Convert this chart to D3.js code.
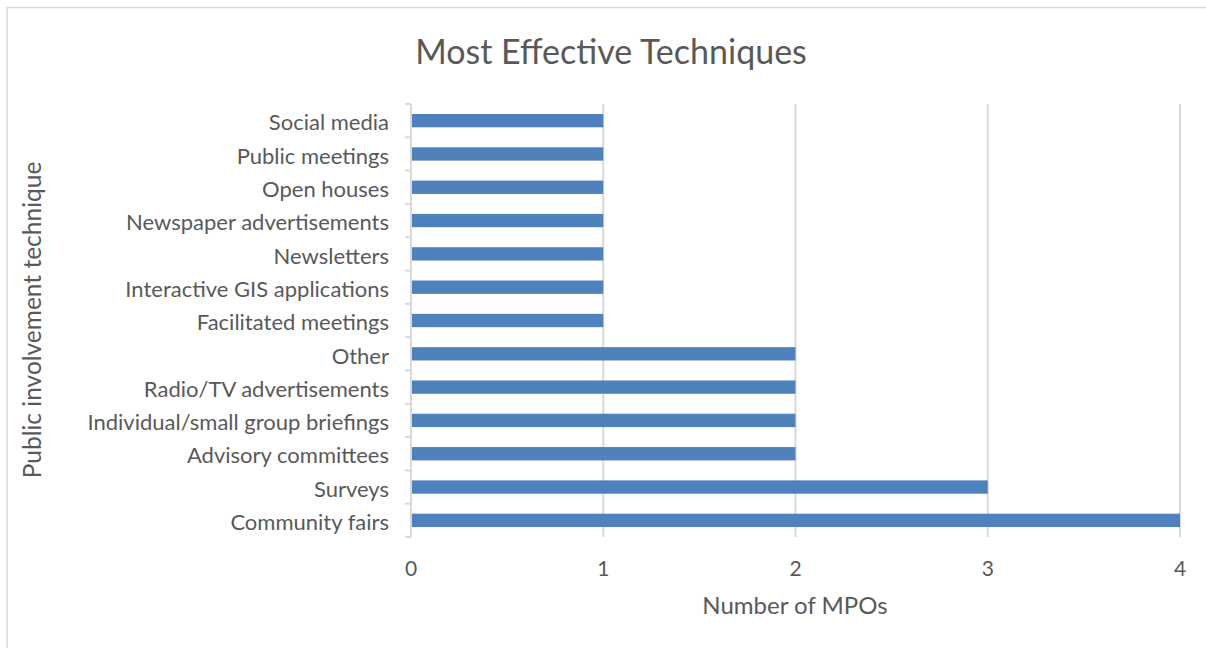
<!DOCTYPE html>
<html><head><meta charset="utf-8">
<script src="https://cdn.jsdelivr.net/npm/d3@7"></script>
<style>body{margin:0;background:#fff}svg{display:block}</style>
</head><body>
<svg id="c" width="1206" height="648"></svg>
<script>
const categories = ["Community fairs","Surveys","Advisory committees","Individual/small group briefings","Radio/TV advertisements","Other","Facilitated meetings","Interactive GIS applications","Newsletters","Newspaper advertisements","Open houses","Public meetings","Social media"];
const values = [4,3,2,2,2,2,1,1,1,1,1,1,1];
const xTicks = [0,1,2,3,4];
const title = "Most Effective Techniques";
const xTitle = "Number of MPOs";
const yTitle = "Public involvement technique";

const font = "Lato, 'Open Sans', sans-serif";
const svg = d3.select("#c");
svg.append("rect").attr("x",7).attr("y",7.5).attr("width",1300).attr("height",700)
  .attr("fill","#fff").attr("stroke","#d9d9d9").attr("stroke-width",1.5);

const L=411, R=1180, T=104, B=537;
const x = d3.scaleLinear().domain([0,4]).range([L,R]);
const y = d3.scaleBand().domain(categories.slice().reverse()).range([T,B]).paddingInner(0.6).paddingOuter(0.3);
const yb = d3.scaleBand().domain(categories.slice().reverse()).range([T,B]);

// grid
svg.append("g").selectAll("line").data(xTicks).join("line")
  .attr("x1",d=>x(d)).attr("x2",d=>x(d)).attr("y1",T).attr("y2",B)
  .attr("stroke","#d9d9d9").attr("stroke-width",2);

// bars
svg.append("g").selectAll("rect").data(categories).join("rect")
  .attr("x",L).attr("y",(d)=>y(d)).attr("height",y.bandwidth())
  .attr("width",(d,i)=>x(values[i])-L).attr("fill","#4f81bd");

// y axis line + ticks
const ya = svg.append("g");
ya.append("line").attr("x1",L).attr("x2",L).attr("y1",T).attr("y2",B).attr("stroke","#d9d9d9").attr("stroke-width",2);
const bounds = categories.map(c=>yb(c)).concat([B]);
ya.selectAll("line.t").data(bounds).join("line").attr("class","t")
  .attr("x1",L-6).attr("x2",L).attr("y1",d=>d).attr("y2",d=>d).attr("stroke","#d9d9d9").attr("stroke-width",2);
ya.selectAll("text").data(categories).join("text")
  .attr("x",389).attr("y",d=>yb(d)+yb.bandwidth()/2+2).attr("dy","0.35em")
  .attr("text-anchor","end").attr("font-family",font).attr("font-size",22).attr("fill","#595959").text(d=>d);

// x tick labels
svg.append("g").selectAll("text").data(xTicks).join("text")
  .attr("x",d=>x(d)).attr("y",576).attr("text-anchor","middle")
  .attr("font-family",font).attr("font-size",21).attr("fill","#595959").text(d=>d);

svg.append("text").attr("x",611).attr("y",64).attr("text-anchor","middle")
  .attr("font-family",font).attr("font-size",34).attr("fill","#595959").text(title);
svg.append("text").attr("x",795).attr("y",614).attr("text-anchor","middle")
  .attr("font-family",font).attr("font-size",24).attr("fill","#595959").text(xTitle);
svg.append("text").attr("transform","translate(41,320) rotate(-90)").attr("text-anchor","middle")
  .attr("font-family",font).attr("font-size",24.5).attr("fill","#595959").text(yTitle);
</script>
</body></html>
